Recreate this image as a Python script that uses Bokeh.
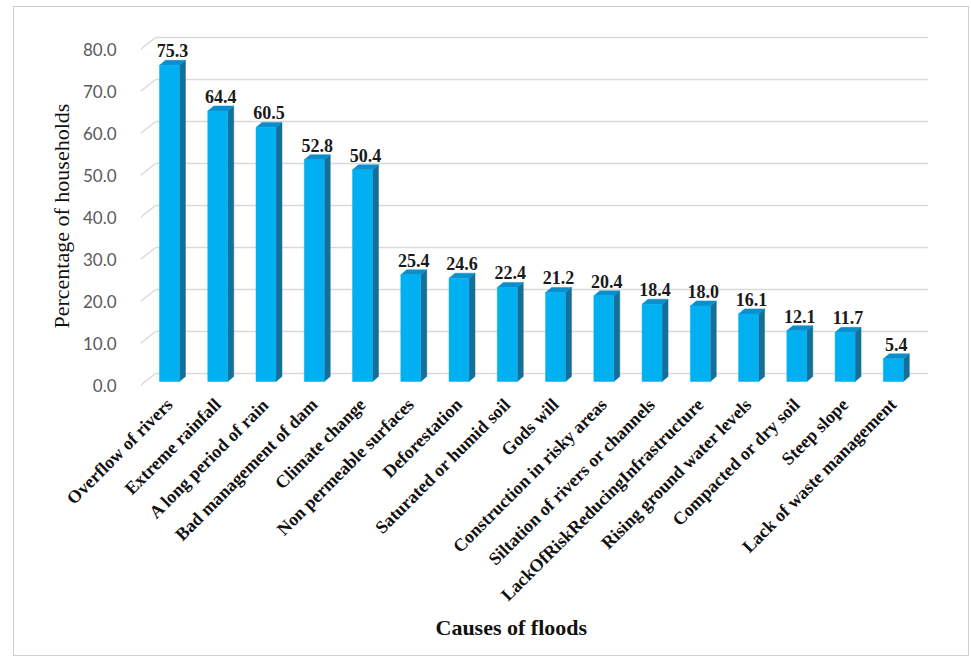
import math
from bokeh.plotting import figure
from bokeh.models import ColumnDataSource, FixedTicker, NumeralTickFormatter, Title
from bokeh.core.properties import value
from bokeh.embed import file_html
from bokeh.resources import INLINE

# Causes of floods and share of households naming each one (%)
causes = [
    "Overflow of rivers", "Extreme rainfall", "A long period of rain",
    "Bad management of dam", "Climate change", "Non permeable surfaces",
    "Deforestation", "Saturated or humid soil", "Gods will",
    "Construction in risky areas", "Siltation of rivers or channels",
    "LackOfRiskReducingInfrastructure", "Rising ground water levels",
    "Compacted or dry soil", "Steep slope", "Lack of waste management",
]
percent = [75.3, 64.4, 60.5, 52.8, 50.4, 25.4, 24.6, 22.4, 21.2, 20.4,
           18.4, 18.0, 16.1, 12.1, 11.7, 5.4]
y_ticks = [0, 10, 20, 30, 40, 50, 60, 70, 80]

# pseudo-3D geometry (x in category slots, y in axis units)
HALF_W = 0.207        # half width of the front face
DEPTH_X = 0.124       # depth shift of the side/top faces
DEPTH_Y = 1.19
BAR_BASE = 0.95       # bars stand a little behind the front plane
WALL_X0 = -0.29       # back wall position
WALL_DY = 2.86
X_START, X_END = -0.601, 15.77

FRONT = "#00b0f0"
SIDE = "#156f99"
TOP = "#0a8fcc"
GRID = "#d9d9d9"
SERIF = "Liberation Serif"

p = figure(width=956, height=650, output_backend="svg", toolbar_location=None,
           x_range=(X_START, X_END), y_range=(-0.714, 84.52),
           min_border_left=126, min_border_right=40,
           min_border_top=23, min_border_bottom=269)
p.styles = {"margin-left": "13px", "margin-top": "6px",
            "border": "1px solid #d0d0d0"}
p.outline_line_color = None
p.xgrid.visible = False
p.ygrid.visible = False
p.background_fill_color = "white"
p.border_fill_color = "white"

# back wall gridlines with the receding floor edges on the left
p.segment(x0=[X_START] * len(y_ticks), y0=y_ticks,
          x1=[WALL_X0] * len(y_ticks), y1=[t + WALL_DY for t in y_ticks],
          line_color=GRID, line_width=1.5)
p.segment(x0=[WALL_X0] * len(y_ticks), y0=[t + WALL_DY for t in y_ticks],
          x1=[15.72] * len(y_ticks), y1=[t + WALL_DY for t in y_ticks],
          line_color=GRID, line_width=1.5)

idx = list(range(len(causes)))
tops = [v + BAR_BASE for v in percent]

side_xs, side_ys, top_xs, top_ys = [], [], [], []
for i, t in zip(idx, tops):
    r = i + HALF_W
    l = i - HALF_W
    side_xs.append([r, r + DEPTH_X, r + DEPTH_X, r])
    side_ys.append([BAR_BASE, BAR_BASE + DEPTH_Y, t + DEPTH_Y, t])
    top_xs.append([l, l + DEPTH_X, r + DEPTH_X, r])
    top_ys.append([t, t + DEPTH_Y, t + DEPTH_Y, t])

p.patches(side_xs, side_ys, fill_color=SIDE, line_color=SIDE, line_width=0.5)
p.patches(top_xs, top_ys, fill_color=TOP, line_color=TOP, line_width=0.5)
src = ColumnDataSource(dict(x=idx, top=tops, lab=[f"{v:.1f}" for v in percent],
                            lx=[i + DEPTH_X / 2 for i in idx],
                            ly=[t + DEPTH_Y for t in tops]))
p.vbar(x="x", top="top", bottom=BAR_BASE, width=2 * HALF_W, source=src,
       fill_color=FRONT, line_color=FRONT, line_width=0.5)

# value labels
p.text(x="lx", y="ly", text="lab", source=src, text_align="center",
       text_baseline="bottom", y_offset=-3, text_font=value(SERIF),
       text_font_style="bold", text_font_size="18px", text_color="#1a1a1a")

# y axis
ya = p.yaxis[0]
ya.ticker = FixedTicker(ticks=y_ticks)
ya.formatter = NumeralTickFormatter(format="0.0")
ya.axis_line_color = None
ya.major_tick_line_color = None
ya.minor_tick_line_color = None
ya.major_label_standoff = 18
ya.major_label_text_font = "Lato"
ya.major_label_text_font_size = "17px"
ya.major_label_text_color = "#595959"

# x axis with the cause names
xa = p.xaxis[0]
xa.ticker = FixedTicker(ticks=idx)
xa.major_label_overrides = {i: c for i, c in zip(idx, causes)}
xa.major_label_orientation = math.pi / 4
xa.axis_line_color = None
xa.major_tick_line_color = None
xa.minor_tick_line_color = None
xa.major_label_standoff = 7
xa.major_label_text_font = SERIF
xa.major_label_text_font_style = "bold"
xa.major_label_text_font_size = "18px"
xa.major_label_text_color = "#111111"

# axis titles
p.add_layout(Title(text="Percentage of households", align="left", offset=60,
                   standoff=12, text_font=SERIF, text_font_style="normal",
                   text_font_size="22px", text_color="#111111"), "left")
p.add_layout(Title(text="Causes of floods", align="left", offset=295,
                   standoff=0, vertical_align="top", text_font=SERIF,
                   text_font_style="bold", text_font_size="22px",
                   text_color="#111111"), "below")

open("out.html", "w").write(file_html(p, INLINE))
